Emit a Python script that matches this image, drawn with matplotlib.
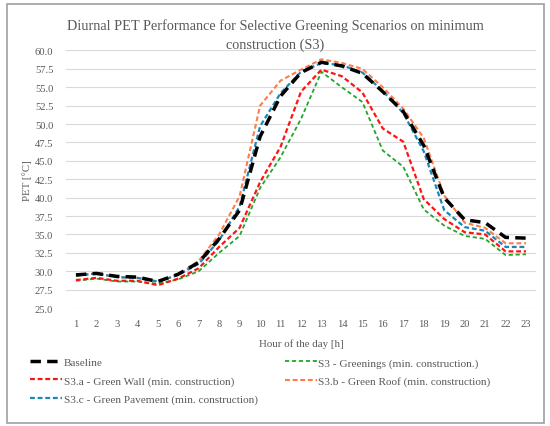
import matplotlib
matplotlib.use("Agg")
import matplotlib.pyplot as plt
from matplotlib.patches import Rectangle

# PET values [°C] per hour
hours = list(range(1, 24))
baseline = [29.5, 29.7, 29.3, 29.2, 28.6, 29.6, 31.2, 34.4, 38.3, 48.3, 53.8, 57.0,
            58.4, 57.9, 56.9, 54.4, 51.7, 47.1, 40.0, 37.0, 36.6, 34.6, 34.5]
greenings = [28.7, 29.0, 28.6, 28.6, 28.3, 28.9, 30.0, 32.5, 34.8, 41.3, 45.5, 50.7,
             57.1, 55.0, 53.0, 46.4, 44.2, 38.4, 36.2, 34.8, 34.4, 32.2, 32.3]
green_wall = [28.8, 29.1, 28.7, 28.7, 28.1, 29.0, 30.4, 33.3, 35.9, 42.1, 46.9, 54.4,
              57.4, 56.5, 54.3, 49.4, 47.6, 39.8, 37.1, 35.3, 35.0, 32.7, 32.7]
green_roof = [29.4, 29.7, 29.2, 29.1, 28.6, 29.5, 31.4, 35.0, 40.2, 52.5, 55.9, 57.4,
              58.8, 58.3, 57.5, 55.0, 52.1, 48.1, 40.3, 36.6, 35.9, 33.8, 33.8]
green_pavement = [29.4, 29.7, 29.2, 29.1, 28.6, 29.5, 31.0, 34.2, 38.8, 49.7, 54.2, 57.1,
                  58.3, 58.0, 57.0, 54.5, 51.5, 46.3, 38.3, 36.0, 35.5, 33.3, 33.3]
yticks = [25.0, 27.5, 30.0, 32.5, 35.0, 37.5, 40.0, 42.5, 45.0, 47.5, 50.0, 52.5, 55.0, 57.5, 60.0]

plt.rcParams['font.family'] = ['Liberation Serif', 'DejaVu Serif']
plt.rcParams['lines.scale_dashes'] = False
grey = '#595959'

fig = plt.figure(figsize=(5.5, 4.27), dpi=100)
ax = fig.add_axes([0.1195, 0.2763, 0.8555, 0.6031])

# borde exterior del grafico
fig.patches.append(Rectangle((7/550, 3/427), 537/550, 419/427, transform=fig.transFigure,
                             fill=False, edgecolor='#a0a0a0', linewidth=1.2))

l_green, = ax.plot(hours, greenings, color='#22a52a', linewidth=1.3, dashes=(3, 2))
l_red, = ax.plot(hours, green_wall, color='#ff1414', linewidth=1.6, dashes=(3.5, 2))
l_orange, = ax.plot(hours, green_roof, color='#ff7c4a', linewidth=1.5, dashes=(3.5, 2))
l_blue, = ax.plot(hours, green_pavement, color='#1a87b8', linewidth=1.6, dashes=(3.5, 2))
l_base, = ax.plot(hours, baseline, color='black', linewidth=2.5, dashes=(7.5, 4.5))

ax.set_xlim(0.5, 23.5)
ax.set_ylim(25, 60)
ax.set_xticks(hours)
ax.set_yticks(yticks)
ax.set_yticklabels([f'{v:.1f}' for v in yticks])
ax.grid(axis='y', color='#d9d9d9', linewidth=0.8)
ax.set_axisbelow(True)
for s in ax.spines.values():
    s.set_visible(False)
ax.tick_params(length=0, labelsize=7.6, colors=grey, pad=8)
ax.tick_params(axis='y', pad=9)

ax.set_xlabel('Hour of the day [h]', fontsize=7.8, color=grey, labelpad=7)
ax.set_ylabel('PET [°C]', fontsize=7.8, color=grey, labelpad=2)

fig.text(0.5, 0.939, 'Diurnal PET Performance for Selective Greening Scenarios on minimum',
         ha='center', va='center', fontsize=10.3, color=grey)
fig.text(0.5, 0.893, 'construction (S3)', ha='center', va='center', fontsize=10.3, color=grey)

handles = [l_base, l_red, l_blue, l_green, l_orange]
labels = ['Baseline', 'S3.a - Green Wall (min. construction)',
          'S3.c - Green Pavement (min. construction)',
          'S3 - Greenings (min. construction.)', 'S3.b - Green Roof (min. construction)']
leg = fig.legend(handles, labels, loc='upper left', bbox_to_anchor=(30/550, 1 - 358.5/427),
                 ncol=2, frameon=False, fontsize=8.1, handlelength=2.85, handletextpad=0.15,
                 labelspacing=0.72, columnspacing=2.4, borderpad=0, borderaxespad=0)
for t in leg.get_texts():
    t.set_color(grey)

fig.savefig('out.png', dpi=100)
